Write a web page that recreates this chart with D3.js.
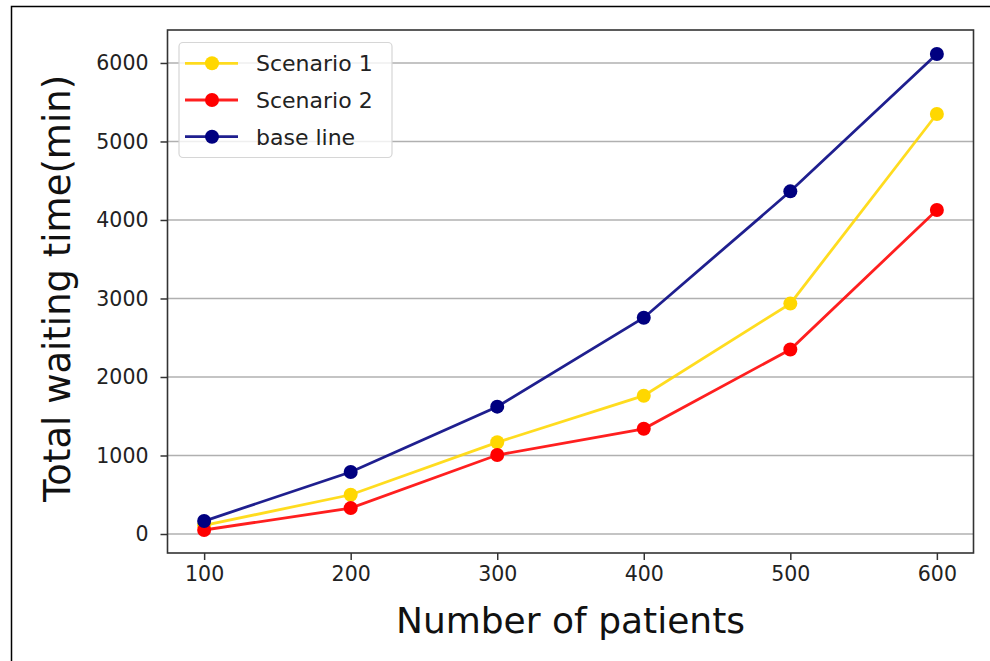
<!DOCTYPE html>
<html><head><meta charset="utf-8">
<script src="https://cdn.jsdelivr.net/npm/d3@7"></script>
<style>body{margin:0;background:#fff}svg{display:block}text{font-family:"DejaVu Sans",sans-serif}</style>
</head><body><svg id="c" width="990" height="661"></svg>
<script>
const patients = [100, 200, 300, 400, 500, 600];
const scenario1 = [110, 500, 1168, 1762, 2935, 5350];
const scenario2 = [51, 330, 1006, 1340, 2350, 4127];
const baseLine = [165, 790, 1622, 2755, 4365, 6115];
const seriesNames = ["Scenario 1", "Scenario 2", "base line"];
const seriesColors = ["#FFD700", "#FF0000", "#000080"];
const yTicks = [0, 1000, 2000, 3000, 4000, 5000, 6000];
const xTicks = [100, 200, 300, 400, 500, 600];

const svg = d3.select("#c");
// outer frame
svg.append("rect").attr("x", 11.5).attr("y", 6.5).attr("width", 1000).attr("height", 700)
  .attr("fill", "none").attr("stroke", "#000").attr("stroke-width", 1.5);

const L = 167.5, R = 973.5, T = 30, B = 553;
const x = d3.scaleLinear().domain([75, 625]).range([L, R]);
const y = d3.scaleLinear().domain([-242, 6420]).range([B, T]);

const series = [scenario1, scenario2, baseLine];

// grid
svg.append("g").selectAll("line").data(yTicks).join("line")
  .attr("x1", L).attr("x2", R).attr("y1", d => y(d)).attr("y2", d => y(d))
  .attr("stroke", "#b0b0b0").attr("stroke-width", 1.5);

// lines and markers
const line = d3.line().x((d, i) => x(patients[i])).y(d => y(d));
series.forEach((s, k) => {
  svg.append("path").datum(s).attr("d", line).attr("fill", "none")
    .attr("stroke", seriesColors[k]).attr("stroke-width", 2.8).attr("stroke-opacity", 0.88);
  svg.append("g").selectAll("circle").data(s).join("circle")
    .attr("cx", (d, i) => x(patients[i])).attr("cy", d => y(d)).attr("r", 7)
    .attr("fill", seriesColors[k]);
});

// axes
const xAxis = d3.axisBottom(x).tickValues(xTicks).tickSize(7).tickPadding(6).tickSizeOuter(0).tickFormat(d3.format("d"));
const yAxis = d3.axisLeft(y).tickValues(yTicks).tickSize(7).tickPadding(12).tickSizeOuter(0).tickFormat(d3.format("d"));
const gx = svg.append("g").attr("transform", `translate(0,${B})`).call(xAxis);
const gy = svg.append("g").attr("transform", `translate(${L},0)`).call(yAxis);
[gx, gy].forEach(g => {
  g.select(".domain").remove();
  g.selectAll(".tick line").attr("stroke", "#333").attr("stroke-width", 1.5);
  g.selectAll(".tick text").attr("fill", "#222").style("font-size", "20.5px").style("font-family", "DejaVu Sans");
});
// spines
svg.append("rect").attr("x", L).attr("y", T).attr("width", R - L).attr("height", B - T)
  .attr("fill", "none").attr("stroke", "#333").attr("stroke-width", 1.6);

// axis labels
svg.append("text").attr("x", (L + R) / 2).attr("y", 633).attr("text-anchor", "middle")
  .style("font-size", "36px").attr("fill", "#111").text("Number of patients");
svg.append("text").attr("transform", `translate(70,${(T + B) / 2 - 3}) rotate(-90)`)
  .attr("text-anchor", "middle").style("font-size", "37px").attr("fill", "#111").text("Total waiting time(min)");

// legend
const lg = svg.append("g");
lg.append("rect").attr("x", 179).attr("y", 42.5).attr("width", 213).attr("height", 115).attr("rx", 4)
  .attr("fill", "#fff").attr("fill-opacity", 0.8).attr("stroke", "#d6d6d6").attr("stroke-width", 1.2);
const rowsY = [63.3, 100, 136.7];
seriesNames.forEach((n, k) => {
  lg.append("line").attr("x1", 185).attr("x2", 238).attr("y1", rowsY[k]).attr("y2", rowsY[k])
    .attr("stroke", seriesColors[k]).attr("stroke-width", 2.8).attr("stroke-opacity", 0.88);
  lg.append("circle").attr("cx", 212).attr("cy", rowsY[k]).attr("r", 7).attr("fill", seriesColors[k]);
  lg.append("text").attr("x", 256).attr("y", rowsY[k]).attr("dy", "0.36em")
    .style("font-size", "22px").attr("fill", "#222").text(n);
});
</script></body></html>
